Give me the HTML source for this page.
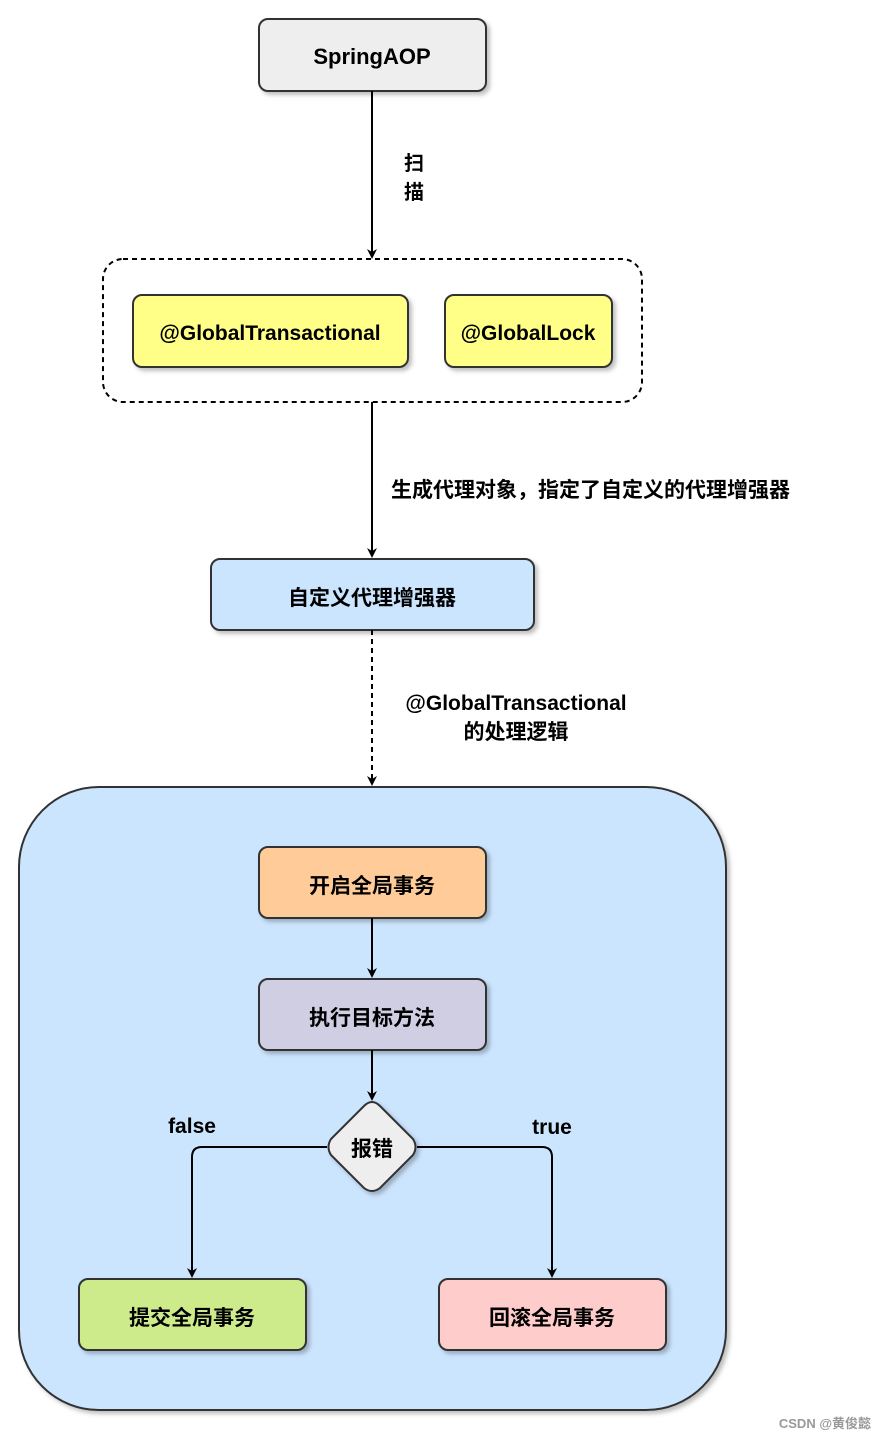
<!DOCTYPE html>
<html><head><meta charset="utf-8"><style>
html,body{margin:0;padding:0;background:#fff;}
svg{display:block}
text{font-family:"Liberation Sans","Noto Sans CJK SC",sans-serif;font-weight:bold;fill:#000;}
</style></head><body>
<svg width="886" height="1440" viewBox="0 0 886 1440" xmlns="http://www.w3.org/2000/svg">
<defs>
<filter id="sh" x="-10%" y="-10%" width="130%" height="140%"><feDropShadow dx="3" dy="3" stdDeviation="2" flood-color="#000" flood-opacity="0.25"/></filter>
<marker id="ar" markerWidth="10" markerHeight="10" refX="8" refY="5" orient="auto" markerUnits="userSpaceOnUse"><path d="M0,0 L10,5 L0,10 L3,5 z" fill="#000"/></marker>
</defs>
<rect x="259" y="19" width="227" height="72" rx="9" fill="#eeeeee" stroke="#333" stroke-width="2" filter="url(#sh)"/>
<text x="372" y="64" font-size="22" text-anchor="middle" font-weight="normal">SpringAOP</text>
<line x1="372" y1="91" x2="372" y2="257" stroke="#000" stroke-width="2" marker-end="url(#ar)"/>
<text x="414" y="170" font-size="20" text-anchor="middle">扫</text>
<text x="414" y="199" font-size="20" text-anchor="middle">描</text>
<rect x="103" y="259" width="539" height="143" rx="20" fill="#fff" stroke="#000" stroke-width="2" stroke-dasharray="5,4"/>
<rect x="133" y="295" width="275" height="72" rx="9" fill="#ffff88" stroke="#333" stroke-width="2" filter="url(#sh)"/>
<text x="270" y="340" font-size="21" text-anchor="middle">@GlobalTransactional</text>
<rect x="445" y="295" width="167" height="72" rx="9" fill="#ffff88" stroke="#333" stroke-width="2" filter="url(#sh)"/>
<text x="528" y="340" font-size="21" text-anchor="middle">@GlobalLock</text>
<line x1="372" y1="402" x2="372" y2="556" stroke="#000" stroke-width="2" marker-end="url(#ar)"/>
<text x="391" y="497" font-size="21">生成代理对象，指定了自定义的代理增强器</text>
<rect x="211" y="559" width="323" height="71" rx="9" fill="#cce5ff" stroke="#333" stroke-width="2" filter="url(#sh)"/>
<text x="372" y="605" font-size="21" text-anchor="middle">自定义代理增强器</text>
<line x1="372" y1="630" x2="372" y2="784" stroke="#000" stroke-width="2" stroke-dasharray="5,4" marker-end="url(#ar)"/>
<text x="516" y="710" font-size="21" text-anchor="middle">@GlobalTransactional</text>
<text x="516" y="739" font-size="21" text-anchor="middle">的处理逻辑</text>
<rect x="19" y="787" width="707" height="623" rx="80" fill="#cce5ff" stroke="#333" stroke-width="2" filter="url(#sh)"/>
<rect x="259" y="847" width="227" height="71" rx="9" fill="#ffcc99" stroke="#333" stroke-width="2" filter="url(#sh)"/>
<text x="372" y="893" font-size="21" text-anchor="middle">开启全局事务</text>
<line x1="372" y1="918" x2="372" y2="976" stroke="#000" stroke-width="2" marker-end="url(#ar)"/>
<rect x="259" y="979" width="227" height="71" rx="9" fill="#d0cee2" stroke="#333" stroke-width="2" filter="url(#sh)"/>
<text x="372" y="1025" font-size="21" text-anchor="middle">执行目标方法</text>
<line x1="372" y1="1050" x2="372" y2="1099" stroke="#000" stroke-width="2" marker-end="url(#ar)"/>
<path d="M372,1102 Q376,1102 380,1106 L413,1139 Q418,1147 413,1155 L380,1188 Q372,1194 364,1188 L331,1155 Q326,1147 331,1139 L364,1106 Q368,1102 372,1102 z" fill="#eeeeee" stroke="#333" stroke-width="2" filter="url(#sh)"/>
<text x="372" y="1156" font-size="21" text-anchor="middle">报错</text>
<path d="M327,1147 L202,1147 Q192,1147 192,1157 L192,1276" fill="none" stroke="#000" stroke-width="2" marker-end="url(#ar)"/>
<path d="M417,1147 L542,1147 Q552,1147 552,1157 L552,1276" fill="none" stroke="#000" stroke-width="2" marker-end="url(#ar)"/>
<text x="192" y="1133" font-size="21" text-anchor="middle" font-weight="normal">false</text>
<text x="552" y="1134" font-size="21" text-anchor="middle" font-weight="normal">true</text>
<rect x="79" y="1279" width="227" height="71" rx="9" fill="#cdeb8b" stroke="#333" stroke-width="2" filter="url(#sh)"/>
<text x="192" y="1325" font-size="21" text-anchor="middle">提交全局事务</text>
<rect x="439" y="1279" width="227" height="71" rx="9" fill="#ffcccc" stroke="#333" stroke-width="2" filter="url(#sh)"/>
<text x="552" y="1325" font-size="21" text-anchor="middle">回滚全局事务</text>
<text x="871" y="1428" font-size="13" text-anchor="end" font-weight="normal" style="fill:#999">CSDN @黄俊懿</text>
</svg>
</body></html>
